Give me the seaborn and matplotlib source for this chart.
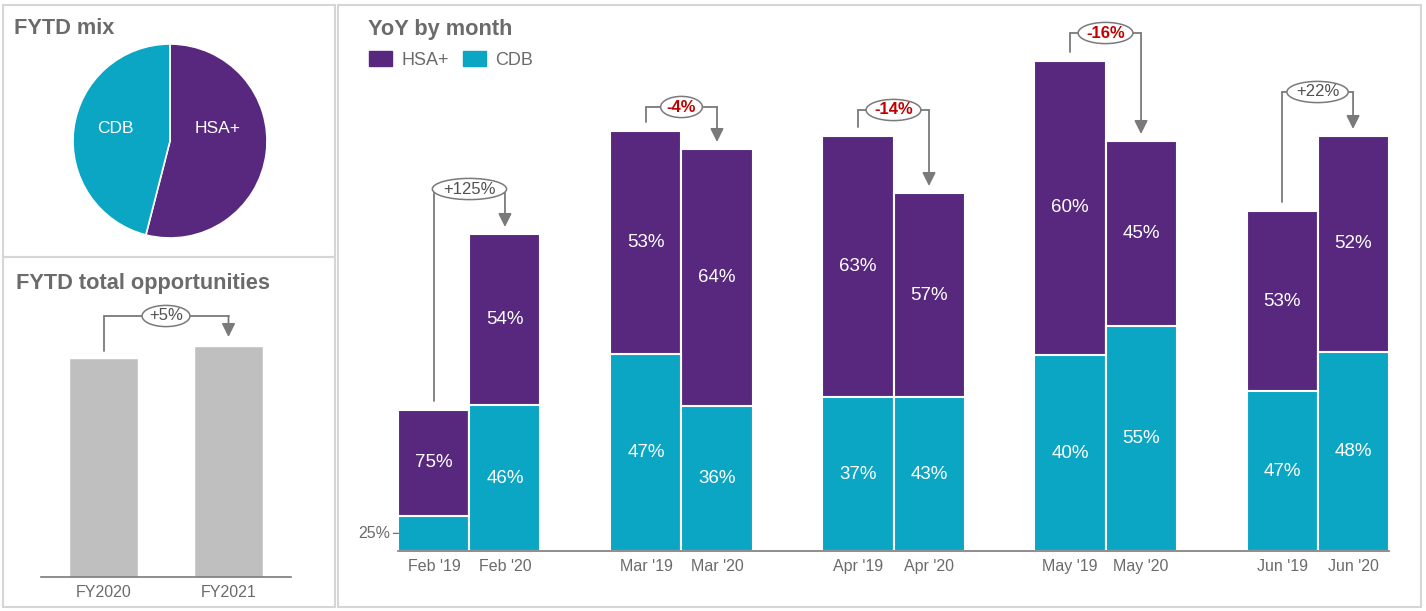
import matplotlib.pyplot as plt
import matplotlib.patches as mpatches
import pandas as pd
import seaborn as sns

# ---- data ----
months = ["Feb", "Mar", "Apr", "May", "Jun"]
years = ["'19", "'20"]
totals_19 = [141, 420, 415, 490, 340]
totals_20 = [317, 402, 358, 410, 415]
cdb_pct_19 = [25, 47, 37, 40, 47]
cdb_pct_20 = [46, 36, 43, 55, 48]
yoy_labels = ["+125%", "-4%", "-14%", "-16%", "+22%"]

mix_labels = ["HSA+", "CDB"]
mix_shares = [54, 46]

fy_labels = ["FY2020", "FY2021"]
fy_totals = [219, 231]
fy_change = "+5%"

# ---- style ----
PURPLE = '#58287f'
TEAL = '#0aa6c4'
BAR_GRAY = '#bfbfbf'
LINE_GRAY = '#7a7a7a'
TEXT_GRAY = '#6b6b6b'
RED = '#c00000'
W, H = 1426, 611

sns.set_theme(style='white')
plt.rcParams['font.family'] = ['Liberation Sans', 'DejaVu Sans']

rows = []
for year, totals, pcts in [(years[0], totals_19, cdb_pct_19), (years[1], totals_20, cdb_pct_20)]:
    for m, t, p in zip(months, totals, pcts):
        rows.append({'month': m, 'year': year, 'total': t, 'cdb': t * p / 100,
                     'cdb_pct': p, 'hsa_pct': 100 - p})
df = pd.DataFrame(rows)

fig = plt.figure(figsize=(W / 100, H / 100), dpi=100)


def px_axes(x0, y0, x1, y1):
    return fig.add_axes([x0 / W, 1 - y1 / H, (x1 - x0) / W, (y1 - y0) / H])


def bracket(ax, x0, top0, x1, top1, offset, label, start_gap=8, tip_gap=7):
    yb = max(top0, top1) + offset
    ax.plot([x0, x0, x1], [top0 + start_gap, yb, yb], color=LINE_GRAY, lw=1.3, solid_joinstyle='miter')
    ax.annotate('', xy=(x1, top1 + tip_gap), xytext=(x1, yb),
                arrowprops=dict(arrowstyle='-|>,head_length=0.4,head_width=0.2', color=LINE_GRAY,
                                lw=1.3, shrinkA=0, shrinkB=0, mutation_scale=20))
    neg = label.startswith('-')
    ax.text((x0 + x1) / 2, yb, label, ha='center', va='center', fontsize=12,
            color=RED if neg else '#505050', fontweight='bold' if neg else 'normal', zorder=6,
            bbox=dict(boxstyle='ellipse,pad=0.0', fc='white', ec=LINE_GRAY, lw=1.1))


# ---- panel borders ----
for x0, y0, x1, y1 in [(3, 5, 335, 257), (3, 257, 335, 607), (338, 5, 1421, 607)]:
    fig.add_artist(mpatches.Rectangle((x0 / W, 1 - y1 / H), (x1 - x0) / W, (y1 - y0) / H,
                                      transform=fig.transFigure, fill=False, ec='#d6d6d6', lw=1.5))

# ---- YoY by month ----
ax = px_axes(398, 20, 1389, 551)
sns.barplot(data=df, x='month', y='total', hue='year', order=months, hue_order=years,
            palette={y: PURPLE for y in years}, width=0.67, saturation=1, errorbar=None,
            edgecolor='white', linewidth=1.5, legend=False, ax=ax)
sns.barplot(data=df, x='month', y='cdb', hue='year', order=months, hue_order=years,
            palette={y: TEAL for y in years}, width=0.67, saturation=1, errorbar=None,
            edgecolor='white', linewidth=1.5, legend=False, ax=ax)

tick_pos, tick_lab = [], []
for yi, year in enumerate(years):
    tot_bars = ax.containers[yi]
    cdb_bars = ax.containers[2 + yi]
    for mi, m in enumerate(months):
        row = df[(df['month'] == m) & (df['year'] == year)].iloc[0]
        tb, cb = tot_bars[mi], cdb_bars[mi]
        xc = tb.get_x() + tb.get_width() / 2
        tot, cdb = tb.get_height(), cb.get_height()
        tick_pos.append(xc)
        tick_lab.append(f"{m} {year}")
        ax.text(xc, (cdb + tot) / 2, f"{row['hsa_pct']}%", ha='center', va='center',
                color='white', fontsize=13.5)
        if cdb >= 45:
            ax.text(xc, cdb / 2, f"{row['cdb_pct']}%", ha='center', va='center',
                    color='white', fontsize=13.5)
        else:
            ax.annotate(f"{row['cdb_pct']}%", xy=(tb.get_x(), cdb / 2), xytext=(-6, 0),
                        textcoords='offset points', ha='right', va='center', fontsize=11.5,
                        color=TEXT_GRAY, annotation_clip=False,
                        arrowprops=dict(arrowstyle='-', color=LINE_GRAY, lw=1, shrinkA=0, shrinkB=0))

bracket_offsets = [45, 24, 26, 28, 44]
for mi in range(len(months)):
    b0, b1 = ax.containers[0][mi], ax.containers[1][mi]
    bracket(ax, b0.get_x() + b0.get_width() / 2, b0.get_height(),
            b1.get_x() + b1.get_width() / 2, b1.get_height(),
            bracket_offsets[mi], yoy_labels[mi], start_gap=9)

order = sorted(range(len(tick_pos)), key=lambda i: tick_pos[i])
ax.set_xticks([tick_pos[i] for i in order])
ax.set_xticklabels([tick_lab[i] for i in order], fontsize=11.5, color=TEXT_GRAY)
ax.tick_params(axis='x', length=0, pad=6)
ax.set_yticks([])
ax.set_xlim(-0.337, 4.337)
ax.set_ylim(0, 531)
ax.set_xlabel('')
ax.set_ylabel('')
sns.despine(ax=ax, left=True)
ax.spines['bottom'].set_color(LINE_GRAY)
ax.spines['bottom'].set_linewidth(1.2)

fig.legend(handles=[mpatches.Patch(color=PURPLE, label='HSA+'), mpatches.Patch(color=TEAL, label='CDB')],
           loc='upper left', bbox_to_anchor=(369 / W, 1 - 51 / H), ncol=2, frameon=False,
           fontsize=13, labelcolor=TEXT_GRAY, handlelength=1.3, handleheight=0.9,
           handletextpad=0.5, columnspacing=0.75, borderpad=0, borderaxespad=0)

# ---- FYTD mix ----
axp = px_axes(48.75, 19.75, 291.25, 262.25)
axp.pie(mix_shares, colors=[PURPLE, TEAL], startangle=90, counterclock=False,
        wedgeprops=dict(edgecolor='white', linewidth=1.2))
axp.set_xlim(-1.25, 1.25)
axp.set_ylim(-1.25, 1.25)
axp.text(0.49, 0.13, mix_labels[0], ha='center', va='center', color='white', fontsize=12.5)
axp.text(-0.56, 0.13, mix_labels[1], ha='center', va='center', color='white', fontsize=12.5)

# ---- FYTD total opportunities ----
axb = px_axes(41, 300, 291, 577)
sns.barplot(x=fy_labels, y=fy_totals, color=BAR_GRAY, saturation=1, width=0.552, ax=axb)
bars = axb.patches
bracket(axb, bars[0].get_x() + bars[0].get_width() / 2, bars[0].get_height(),
        bars[1].get_x() + bars[1].get_width() / 2, bars[1].get_height(),
        30, fy_change, start_gap=7, tip_gap=9)
axb.set_xlim(-0.5, 1.5)
axb.set_ylim(0, 277)
axb.set_yticks([])
axb.tick_params(axis='x', length=0, pad=6, labelsize=11.5, labelcolor=TEXT_GRAY)
sns.despine(ax=axb, left=True)
axb.spines['bottom'].set_color(LINE_GRAY)
axb.spines['bottom'].set_linewidth(1.2)

# ---- titles ----
for x, y, t in [(14, 29, 'FYTD mix'), (16, 283, 'FYTD total opportunities'), (368, 29, 'YoY by month')]:
    fig.text(x / W, 1 - y / H, t, ha='left', va='center', fontsize=15.7, fontweight='bold', color=TEXT_GRAY)

fig.savefig('out.png', dpi=100)
